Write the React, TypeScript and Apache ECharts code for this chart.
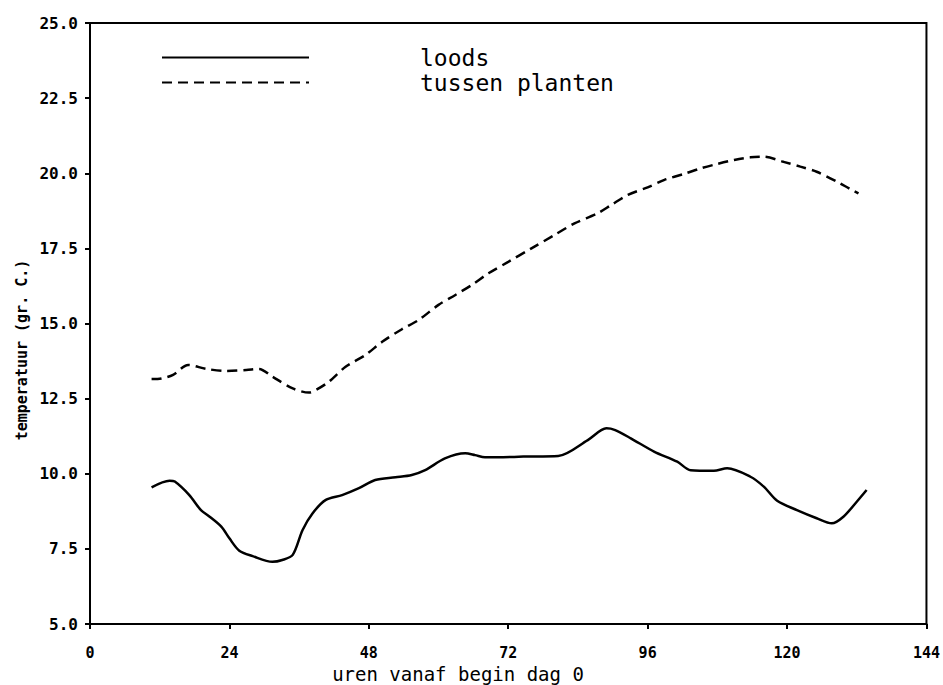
import React, { useEffect, useRef } from "react";
import * as echarts from "echarts";

const loodsX = [10.6, 13.7, 14.6, 17.1, 19.1, 20.6, 22.6, 24, 25.7, 28, 31.4, 33.1, 34.9, 36.6, 38.3, 40.6, 43.4, 46.3, 49.1, 52.6, 55.4, 57.7, 61.1, 64.6, 66.3, 68, 70.3, 74.6, 80.6, 85.7, 88.9, 90.3, 93.1, 97.1, 101.1, 103.4, 107.4, 109.7, 113.7, 116, 118.3, 121.7, 125.1, 127.7, 129.7, 132, 133.7];
const loodsY = [9.55, 9.77, 9.74, 9.29, 8.79, 8.57, 8.24, 7.85, 7.44, 7.26, 7.07, 7.13, 7.3, 8.13, 8.68, 9.13, 9.29, 9.52, 9.79, 9.88, 9.96, 10.12, 10.51, 10.68, 10.62, 10.55, 10.55, 10.57, 10.59, 11.12, 11.51, 11.46, 11.18, 10.74, 10.4, 10.12, 10.1, 10.18, 9.9, 9.57, 9.1, 8.79, 8.52, 8.35, 8.57, 9.07, 9.46];

const plantenX = [10.6, 12.3, 14.3, 16.9, 20, 23.4, 26.9, 29.1, 31.4, 34.9, 37.7, 38.9, 41.1, 44, 47.4, 50.3, 53.7, 56.6, 60, 62.9, 65.7, 68.6, 72, 76, 80, 83.4, 87.4, 89.7, 92.6, 96, 98.9, 102.3, 105.1, 108, 110.9, 113.7, 116, 119.4, 122.3, 125.1, 128.6, 130.9, 132.3];
const plantenY = [13.15, 13.17, 13.29, 13.62, 13.49, 13.42, 13.45, 13.49, 13.23, 12.84, 12.7, 12.79, 13.06, 13.56, 13.95, 14.39, 14.81, 15.12, 15.62, 15.95, 16.28, 16.67, 17.05, 17.5, 17.95, 18.33, 18.67, 18.94, 19.28, 19.53, 19.78, 19.98, 20.16, 20.31, 20.44, 20.53, 20.55, 20.38, 20.22, 20.05, 19.72, 19.47, 19.33];

const seriesNames = ["loods", "tussen planten"];
const xTitle = "uren vanaf begin dag 0";
const yTitle = "temperatuur (gr. C.)";

export default function App() {
  const ref = useRef<HTMLDivElement>(null);
  useEffect(() => {
    if (!ref.current) return;
    const chart = echarts.init(ref.current, null, { renderer: "svg" });
    const mono = "DejaVu Sans Mono";
    chart.setOption({
      animation: false,
      backgroundColor: "#ffffff",
      grid: {
        left: 90,
        right: 13,
        top: 23,
        bottom: 61,
        show: true,
        borderColor: "#000",
        borderWidth: 2,
      },
      legend: {
        orient: "vertical",
        left: 156,
        top: 41,
        itemWidth: 147,
        itemHeight: 14,
        itemGap: 2,
        data: seriesNames,
        itemStyle: { color: "transparent", borderWidth: 0, opacity: 0 },
        textStyle: {
          fontFamily: mono,
          fontSize: 23,
          color: "#000",
          padding: [0, 0, 0, 106],
        },
      },
      xAxis: {
        type: "value",
        min: 0,
        max: 144,
        interval: 24,
        axisLine: { show: true, lineStyle: { color: "#000", width: 2 } },
        axisTick: { show: true, inside: false, length: 5, lineStyle: { color: "#000", width: 2 } },
        axisLabel: {
          margin: 21,
          color: "#000",
          fontFamily: mono,
          fontWeight: "bold",
          fontSize: 15,
        },
        splitLine: { show: false },
      },
      yAxis: {
        type: "value",
        min: 5,
        max: 25,
        interval: 2.5,
        axisLine: { show: true, lineStyle: { color: "#000", width: 2 } },
        axisTick: { show: true, inside: false, length: 5, lineStyle: { color: "#000", width: 2 } },
        axisLabel: {
          margin: 12,
          color: "#000",
          fontFamily: mono,
          fontWeight: "bold",
          fontSize: 16,
          formatter: (v: number) => v.toFixed(1),
        },
        splitLine: { show: false },
      },
      graphic: [
        {
          type: "text",
          x: 458,
          y: 674,
          style: {
            text: xTitle,
            fontFamily: mono,
            fontSize: 19,
            fill: "#000",
            align: "center",
            verticalAlign: "middle",
          },
        },
        {
          type: "text",
          x: 22,
          y: 350,
          rotation: Math.PI / 2,
          style: {
            text: yTitle,
            fontFamily: mono,
            fontSize: 15,
            fontWeight: "bold",
            fill: "#000",
            align: "center",
            verticalAlign: "middle",
          },
        },
      ],
      series: [
        {
          name: seriesNames[0],
          type: "line",
          symbol: "none",
          smooth: 0.3,
          data: loodsX.map((x, i) => [x, loodsY[i]]),
          lineStyle: { color: "#000", width: 2.5, type: "solid" },
          itemStyle: { color: "#000" },
        },
        {
          name: seriesNames[1],
          type: "line",
          symbol: "none",
          smooth: 0.3,
          data: plantenX.map((x, i) => [x, plantenY[i]]),
          lineStyle: { color: "#000", width: 2.5, type: [10, 6] },
          itemStyle: { color: "#000" },
        },
      ],
    });
    return () => chart.dispose();
  }, []);
  return (
    <div
      ref={ref}
      style={{ position: "fixed", left: 0, top: 0, width: 943, height: 685, background: "#fff" }}
    />
  );
}
